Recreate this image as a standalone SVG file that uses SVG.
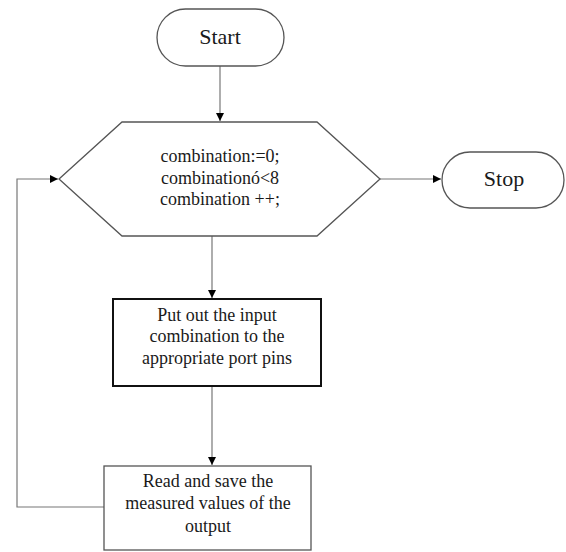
<svg xmlns="http://www.w3.org/2000/svg" width="566" height="552" viewBox="0 0 566 552">
<style>
text{font-family:"Liberation Serif","Times New Roman",serif;fill:#1a1a1a;text-anchor:middle}
.t22{font-size:22px}
.t18{font-size:18px}
.shape{fill:#fff;stroke:#555;stroke-width:1.3}
.conn{fill:none;stroke:#777;stroke-width:1.2}
</style>
<defs>
<marker id="ah" viewBox="0 0 10 10" refX="10" refY="5" markerWidth="8" markerHeight="8" markerUnits="userSpaceOnUse" orient="auto">
<path d="M0,0 L10,5 L0,10 z" fill="#000"/>
</marker>
</defs>
<rect width="566" height="552" fill="#fff"/>
<g id="connectors">
<line class="conn" x1="220" y1="66" x2="220" y2="121" marker-end="url(#ah)"/>
<line class="conn" x1="380" y1="179" x2="441" y2="179" marker-end="url(#ah)"/>
<line class="conn" x1="212" y1="236" x2="212" y2="298" marker-end="url(#ah)"/>
<line class="conn" x1="212" y1="386" x2="212" y2="465" marker-end="url(#ah)"/>
<polyline class="conn" points="104,507 17,507 17,179 58,179" marker-end="url(#ah)"/>
</g>
<g id="start">
<rect class="shape" x="157" y="9" width="127" height="57" rx="28.5"/>
<text class="t22" x="220" y="44">Start</text>
</g>
<g id="loop">
<polygon class="shape" points="59,179 122,122 317,122 380,179 317,236 122,236"/>
<text class="t18" x="220" y="162">combination:=0;</text>
<text class="t18" x="220" y="184">combinationó&lt;8</text>
<text class="t18" x="220" y="205">combination ++;</text>
</g>
<g id="stop">
<rect class="shape" x="442" y="152" width="122" height="56" rx="28"/>
<text class="t22" x="504" y="186">Stop</text>
</g>
<g id="output">
<rect x="113" y="299" width="208" height="87" fill="#fff" stroke="#111" stroke-width="2"/>
<text class="t18" x="217" y="321">Put out the input</text>
<text class="t18" x="217" y="342">combination to the</text>
<text class="t18" x="217" y="364">appropriate port pins</text>
</g>
<g id="read">
<rect class="shape" x="104" y="466" width="207" height="84"/>
<text class="t18" x="208" y="487">Read and save the</text>
<text class="t18" x="208" y="509">measured values of the</text>
<text class="t18" x="208" y="532">output</text>
</g>
</svg>
